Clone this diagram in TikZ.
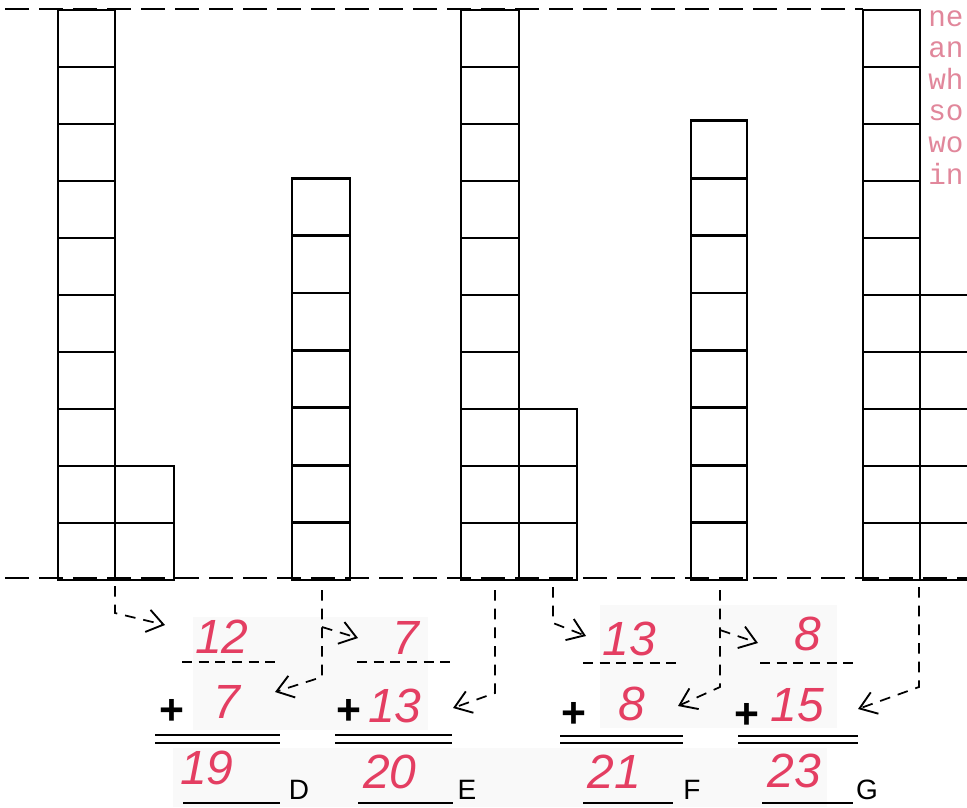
\documentclass[tikz,border=0pt]{standalone}
\usepackage{fontspec}
\setmainfont{Liberation Sans}
\newfontfamily\pinkmono{Liberation Mono}
\usetikzlibrary{arrows.meta}
\definecolor{numred}{RGB}{228,62,98}
\definecolor{txtpink}{RGB}{225,135,155}
\definecolor{patchgray}{RGB}{249,249,249}
\begin{document}
\begin{tikzpicture}[x=0.75pt,y=-0.75pt,
  cellbox/.style={draw=black, line width=2.2pt},
  guide/.style={draw=black, line width=1.2pt, dash pattern=on 18pt off 7.5pt},
  blank/.style={draw=black, line width=1.2pt, dash pattern=on 7.5pt off 5pt},
  link/.style={draw=black, line width=1.3pt, dash pattern=on 8pt off 6pt, -{Straight Barb[length=12pt,width=17pt,line width=1.4pt]}},
  num/.style={inner sep=0pt, text=numred, font=\fontsize{36}{36}\selectfont\itshape},
  plussign/.style={inner sep=0pt, font=\fontsize{32}{32}\selectfont\bfseries},
  letter/.style={inner sep=0pt, font=\fontsize{21}{21}\selectfont},
  rule/.style={draw=black, line width=2.2pt},
]
\useasboundingbox (0,0) rectangle (967,807);
\clip (0,0) rectangle (967,807);

% faint scan patches
\fill[patchgray] (193,617) rectangle (428,730);
\fill[patchgray] (600,605) rectangle (837,728);
\fill[patchgray] (173,748) rectangle (827,807);

% guide lines
\draw[guide] (5,9) -- (863,9);
\draw[guide] (5,578) -- (967,578);

% columns
\foreach \i in {0,...,9} \draw[cellbox] (58,{580-57*(\i+1)}) rectangle (115,{580-57*\i});
\foreach \i in {0,...,1} \draw[cellbox] (115,{580-57*(\i+1)}) rectangle (174,{580-57*\i});
\foreach \i in {0,...,6} \draw[cellbox] (292,{580-57.4*(\i+1)}) rectangle (350,{580-57.4*\i});
\foreach \i in {0,...,9} \draw[cellbox] (461,{580-57*(\i+1)}) rectangle (519,{580-57*\i});
\foreach \i in {0,...,2} \draw[cellbox] (519,{580-57*(\i+1)}) rectangle (577,{580-57*\i});
\foreach \i in {0,...,7} \draw[cellbox] (691,{580-57.4*(\i+1)}) rectangle (747,{580-57.4*\i});
\foreach \i in {0,...,9} \draw[cellbox] (863,{580-57*(\i+1)}) rectangle (920,{580-57*\i});
\foreach \i in {0,...,4} \draw[cellbox] (920,{580-57*(\i+1)}) rectangle (977,{580-57*\i});

% side text
\node[anchor=north west, inner sep=0pt, align=left, text=txtpink,
  font=\pinkmono\fontsize{22}{23.7}\selectfont] (side) at (928,10)
  {ne\\an\\wh\\so\\wo\\in};

% problem D
\node[num] (d1) at (222,637) {12};
\node[plussign] (dp) at (172,712) {+};
\node[num] (d2) at (227,702) {7};
\node[num] (d3) at (207,768) {19};
\node[letter] (dl) at (299,790) {D};
\draw[blank] (182,662) -- (280,662);
\draw[rule] (155,735) -- (280,735);
\draw[rule] (155,743) -- (280,743);
\draw[rule] (183,803) -- (280,803);

% problem E
\node[num] (e1) at (406,638) {7};
\node[plussign] (ep) at (349,712) {+};
\node[num] (e2) at (395,706) {13};
\node[num] (e3) at (390,772) {20};
\node[letter] (el) at (467,790) {E};
\draw[blank] (357,662) -- (453,662);
\draw[rule] (335,735) -- (452,735);
\draw[rule] (335,743) -- (452,743);
\draw[rule] (358,803) -- (453,803);

% problem F
\node[num] (f1) at (629,639) {13};
\node[plussign] (fp) at (574,715) {+};
\node[num] (f2) at (632,704) {8};
\node[num] (f3) at (614,772) {21};
\node[letter] (fl) at (692,790) {F};
\draw[blank] (583,663) -- (680,663);
\draw[rule] (560,736) -- (683,736);
\draw[rule] (560,743) -- (683,743);
\draw[rule] (583,803) -- (673,803);

% problem G
\node[num] (g1) at (808,634) {8};
\node[plussign] (gp) at (747,716) {+};
\node[num] (g2) at (797,705) {15};
\node[num] (g3) at (794,771) {23};
\node[letter] (gl) at (867,790) {G};
\draw[blank] (760,663) -- (853,663);
\draw[rule] (738,736) -- (858,736);
\draw[rule] (738,743) -- (858,743);
\draw[rule] (762,803) -- (853,803);

% arrow coordinates
\coordinate (s1) at (115,586);
\coordinate (k1) at (115,613);
\coordinate (t1) at (165,625);
\coordinate (s2) at (322,590);
\coordinate (b2) at (322,627);
\coordinate (k2) at (322,677);
\coordinate (u2) at (358,638);
\coordinate (t2) at (275,692);
\coordinate (s3) at (495,590);
\coordinate (k3) at (495,693);
\coordinate (t3) at (453,708);
\coordinate (s4) at (553,587);
\coordinate (k4) at (553,623);
\coordinate (t4) at (586,636);
\coordinate (s5) at (720,590);
\coordinate (b5) at (720,630);
\coordinate (k5) at (720,687);
\coordinate (u5) at (758,643);
\coordinate (t5) at (678,706);
\coordinate (s6) at (919,587);
\coordinate (k6) at (919,687);
\coordinate (t6) at (858,709);

\draw[link] (s1) -- (k1) -- (t1);
\draw[link] (s2) -- (k2) -- (t2);
\draw[link] (b2) -- (u2);
\draw[link] (s3) -- (k3) -- (t3);
\draw[link] (s4) -- (k4) -- (t4);
\draw[link] (s5) -- (k5) -- (t5);
\draw[link] (b5) -- (u5);
\draw[link] (s6) -- (k6) -- (t6);
\end{tikzpicture}
\end{document}
